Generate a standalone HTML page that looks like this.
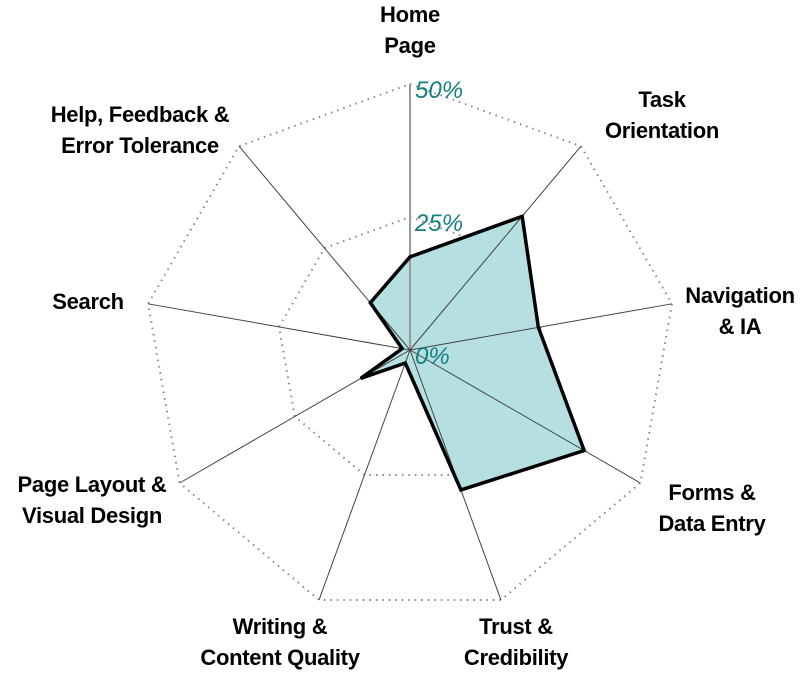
<!DOCTYPE html>
<html><head><meta charset="utf-8"><style>
body{margin:0;background:#fff}
svg text{font-family:"Liberation Sans",sans-serif}
.lab{font-weight:bold;font-size:22px;fill:#000;text-anchor:middle;letter-spacing:-0.3px}
.pct{font-style:italic;font-size:24px;fill:#167f80}
</style></head><body>
<svg id="chart" width="800" height="675"></svg>
<script>
const categories=[["Home","Page"],["Task","Orientation"],["Navigation","& IA"],["Forms &","Data Entry"],["Trust &","Credibility"],["Writing &","Content Quality"],["Page Layout &","Visual Design"],["Search"],["Help, Feedback &","Error Tolerance"]];
const values=[17.5,32.8,24.5,37.8,28,2.6,10.7,1.5,11.6];
const tickValues=[0,25,50];
const tickLabels=["0%","25%","50%"];
const maxVal=50;
const cx=410,cy=350,R=266;
const labelPos=[[410,22],[662,107],[740,303],[712,500],[516,634],[280,634],[92,492],[88,309],[140,122]];
const svg=document.getElementById('chart');
const NS='http://www.w3.org/2000/svg';
function ang(i){return i*2*Math.PI/categories.length;}
function pt(i,v){const r=v/maxVal*R;return [cx+r*Math.sin(ang(i)),cy-r*Math.cos(ang(i))];}
function mk(t,a){const e=document.createElementNS(NS,t);for(const k in a)e.setAttribute(k,a[k]);svg.appendChild(e);return e;}
tickValues.forEach((tv,ti)=>{
 if(tv===0)return;
 const p=categories.map((c,i)=>pt(i,tv).join(',')).join(' ');
 const g=mk('polygon',{points:p,fill:'none',stroke:'#888','stroke-width':2,'stroke-dasharray':'1.5 5'});
 
 
});
const poly=mk('polygon',{points:values.map((v,i)=>pt(i,v).join(',')).join(' '),fill:'#b5dfe0',stroke:'none'});


categories.forEach((c,i)=>{
 const [x,y]=pt(i,maxVal);
 const l=mk('line',{x1:cx,y1:cy,x2:x,y2:y,stroke:i===0?'#999':'#444','stroke-width':i===0?2:1});
 
 
});
const outline=mk('polygon',{points:values.map((v,i)=>pt(i,v).join(',')).join(' '),fill:'none',stroke:'#000','stroke-width':3.5,'stroke-linejoin':'miter'});


tickValues.forEach((tv,ti)=>{
 const y=cy-tv/maxVal*R;
 const t=mk('text',{x:cx+5,y:y+14,class:'pct'});
 t.textContent=tickLabels[ti];
 
 
});
categories.forEach((c,i)=>{
 const [lx,ly]=labelPos[i];
 const t=mk('text',{x:lx,y:ly,class:'lab'});
 
 
 c.forEach((line,j)=>{const s=document.createElementNS(NS,'tspan');s.setAttribute('x',lx);s.setAttribute('dy',j?31:0);s.textContent=line;t.appendChild(s);});
});
</script>
</body></html>
